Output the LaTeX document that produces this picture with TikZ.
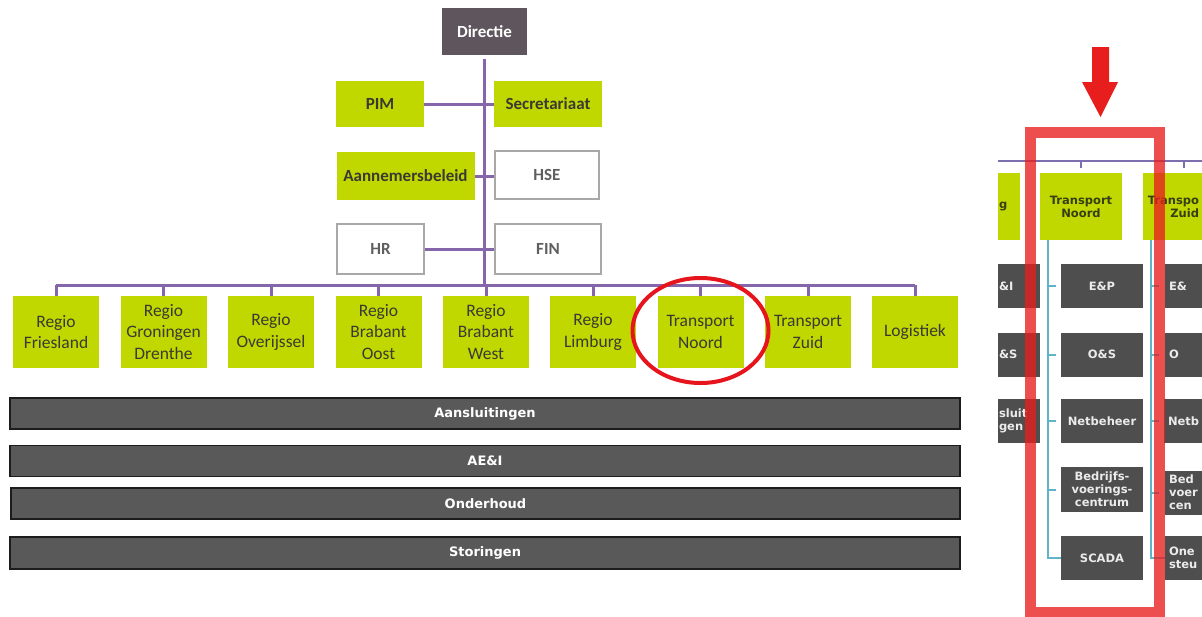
\documentclass[tikz,border=0pt]{standalone}
\usepackage{fontspec}
\setmainfont{Carlito}
\newfontfamily\vfont{DejaVu Sans}
\definecolor{lime}{RGB}{192,216,0}
\definecolor{dircol}{RGB}{94,86,92}
\definecolor{boxtext}{RGB}{58,58,50}
\definecolor{opentext}{RGB}{95,95,95}
\definecolor{framegray}{RGB}{168,168,168}
\definecolor{orgpurple}{RGB}{133,102,171}
\definecolor{ringred}{RGB}{230,20,28}
\definecolor{bargray}{RGB}{89,89,89}
\definecolor{barline}{RGB}{28,28,28}
\definecolor{unitgray}{RGB}{78,78,78}
\definecolor{paneltext}{RGB}{55,62,20}
\definecolor{panelpurple}{RGB}{125,110,175}
\definecolor{teal}{RGB}{95,180,200}
\definecolor{framered}{RGB}{232,30,30}
\tikzset{
  head/.style={fill=dircol, text=white, font=\fontsize{17}{20}\selectfont\bfseries, minimum width=85, minimum height=47, inner sep=0},
  topbox/.style={fill=lime, text=boxtext, font=\fontsize{17}{20}\selectfont\bfseries, inner sep=0},
  openbox/.style={fill=white, draw=framegray, line width=2.5, text=opentext, font=\fontsize{17}{20}\selectfont\bfseries, inner sep=0},
  box/.style={fill=lime, text=boxtext, align=center, minimum width=86, minimum height=72, font=\fontsize{17.5}{21.5}\selectfont, inner sep=0},
  orgline/.style={draw=orgpurple, line width=3},
  ring/.style={draw=ringred, line width=4},
  bar/.style={fill=bargray, draw=barline, line width=1.5, text=white, font=\vfont\bfseries\fontsize{13}{15}\selectfont, minimum width=950, minimum height=31, inner sep=0},
  tbox/.style={fill=lime, text=paneltext, align=center, minimum width=82, minimum height=67, font=\vfont\bfseries\fontsize{11.5}{13}\selectfont, inner sep=0},
  unit/.style={fill=unitgray, text=white!92!black, align=center, minimum width=82, minimum height=44, font=\vfont\bfseries\fontsize{11.5}{13}\selectfont, inner ysep=0},
  cutleft/.style={text width=#1, inner xsep=1, align=left},
  cutright/.style={text width=#1, inner xsep=4, align=left},
  panelline/.style={draw=panelpurple, line width=2},
  unitline/.style={draw=teal, line width=2},
  frame/.style={draw=framered, draw opacity=0.78, line width=11},
  pointer/.style={fill=framered}
}
\begin{document}
\begin{tikzpicture}[x=1pt,y=-1pt]
\useasboundingbox (0,0) rectangle (1202,616);
\node[head] (dir) at (484.5,31.5) {Directie};
\node[topbox, minimum width=88, minimum height=46] (pim) at (380,104) {PIM};
\node[topbox, minimum width=108, minimum height=46] (sec) at (548,104) {Secretariaat};
\node[topbox, minimum width=138, minimum height=48] (ann) at (405.5,176) {Aannemersbeleid};
\node[openbox, minimum width=104, minimum height=48] (hse) at (547,175) {HSE};
\node[openbox, minimum width=87, minimum height=50] (hr) at (380.5,249) {HR};
\node[openbox, minimum width=106, minimum height=50] (fin) at (548,249) {FIN};
\node[box] (fri) at (56,332) {Regio\\Friesland};
\node[box] (gro) at (163.5,332) {Regio\\Groningen\\Drenthe};
\node[box] (ove) at (271,332) {Regio\\Overijssel};
\node[box] (bro) at (378.5,332) {Regio\\Brabant\\Oost};
\node[box] (brw) at (486,332) {Regio\\Brabant\\West};
\node[box] (lim) at (593,332) {Regio\\Limburg};
\node[box] (trn) at (700.5,332) {Transport\\Noord};
\node[box] (trz) at (808,332) {Transport\\Zuid};
\node[box] (log) at (915,332) {Logistiek};
\coordinate (bus) at (484,285);
\draw[orgline, shorten <=4pt] (dir.south) -- (dir.south |- bus);
\draw[orgline] (pim) -- (sec);
\draw[orgline] (ann.east) -- (ann.east -| hse.west);
\draw[orgline] (hr) -- (fin);
\draw[orgline] (fri.north |- bus) -- (log.north |- bus);
\draw[orgline] (fri.north) -- (fri.north |- bus);
\draw[orgline] (gro.north) -- (gro.north |- bus);
\draw[orgline] (ove.north) -- (ove.north |- bus);
\draw[orgline] (bro.north) -- (bro.north |- bus);
\draw[orgline] (brw.north) -- (brw.north |- bus);
\draw[orgline] (lim.north) -- (lim.north |- bus);
\draw[orgline] (trn.north) -- (trn.north |- bus);
\draw[orgline] (trz.north) -- (trz.north |- bus);
\draw[orgline] (log.north) -- (log.north |- bus);
\draw[ring] (trn.center) ++(0,-1.5) ellipse [x radius=68, y radius=52.5];
\node[bar] (aan) at (485,413.5) {Aansluitingen};
\node[bar] (aei) at (485,461) {AE\&I};
\node[bar, minimum width=949] (ond) at (485.5,503.5) {Onderhoud};
\node[bar, minimum height=32] (sto) at (485,553) {Storingen};
% uitsnede rechts
\coordinate (lineL) at (998,161);
\coordinate (lineR) at (1202,161);
\draw[panelline] (lineL) -- (lineR);
\node[tbox, minimum width=22, cutleft=20] (plim) at (1009,206.5) {g};
\node[tbox] (pnoord) at (1081,206.5) {Transport\\Noord};
\node[tbox, minimum width=59, cutleft=53, align=right] (pzuid) at (1172.5,206.5) {Transpo\\Zuid};
\draw[panelline, shorten <=5pt] (pnoord.north) -- (pnoord.north |- lineL);
\draw[panelline, shorten <=5pt] (1184,173) -- (1184,161);
\node[unit, minimum width=42, cutleft=40] (pae) at (1019,286) {\&I};
\node[unit, minimum width=42, cutleft=40] (pos) at (1019,354.5) {\&S};
\node[unit, minimum width=42, cutleft=40] (paan) at (1019,421) {sluit\\gen};
\node[unit] (ep) at (1102,286) {E\&P};
\node[unit] (os) at (1102,354.5) {O\&S};
\node[unit] (nb) at (1102,421) {Netbeheer};
\node[unit, minimum height=45] (bvc) at (1102,489.5) {Bedrijfs-\\voerings-\\centrum};
\node[unit] (sc) at (1102,558) {SCADA};
\node[unit, minimum width=37, cutright=29] (zep) at (1183.5,286) {E\&};
\node[unit, minimum width=37, cutright=29] (zos) at (1183.5,354.5) {O};
\node[unit, minimum width=37, cutright=31] (znb) at (1183.5,421) {Netb};
\node[unit, minimum width=37, cutright=29] (zbvc) at (1183.5,492.5) {Bed\\voer\\cen};
\node[unit, minimum width=37, cutright=29] (zon) at (1183.5,558) {One\\steu};
\coordinate (nl) at (1048,240);
\draw[unitline] (nl) |- (sc.west);
\draw[unitline] (nl |- ep.west) -- ++(8,0);
\draw[unitline] (nl |- os.west) -- ++(8,0);
\draw[unitline] (nl |- nb.west) -- ++(8,0);
\draw[unitline] (nl |- bvc.west) -- ++(8,0);
\coordinate (zl) at (1151,240);
\draw[unitline] (zl) |- (zon.west);
\draw[unitline] (zl |- zep.west) -- ++(8,0);
\draw[unitline] (zl |- zos.west) -- ++(8,0);
\draw[unitline] (zl |- znb.west) -- ++(8,0);
\draw[unitline] (zl |- zbvc.west) -- ++(8,0);
\draw[frame] (1030.5,132.5) rectangle (1159.5,612.5);
\fill[pointer] (1092,47) -- (1109,47) -- (1109,82) -- (1118,82) -- (1100.5,117) -- (1082,82) -- (1092,82) -- cycle;
\end{tikzpicture}
\end{document}
